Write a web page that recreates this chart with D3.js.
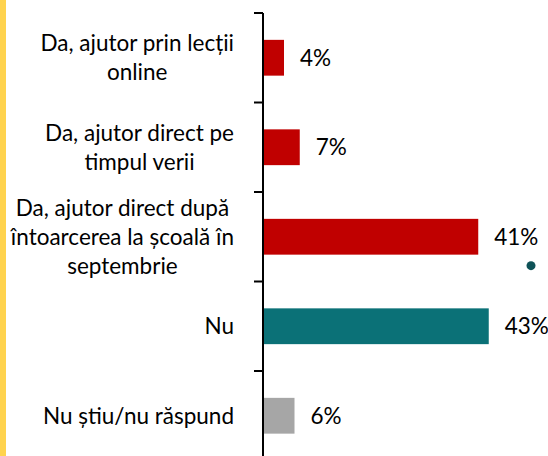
<!DOCTYPE html>
<html><head><meta charset="utf-8">
<script src="https://cdn.jsdelivr.net/npm/d3@7"></script>
<style>html,body{margin:0;padding:0;background:#fff;overflow:hidden}</style>
</head><body>
<svg id="c" width="548" height="456"></svg>
<script>
const categories = [
  ["Da, ajutor prin lecții", "online"],
  ["Da, ajutor direct pe", "timpul verii"],
  ["Da, ajutor direct după", "întoarcerea la școală în", "septembrie"],
  ["Nu"],
  ["Nu știu/nu răspund"]
];
const values = [4, 7, 41, 43, 6];
const barColors = ["#C00000", "#C00000", "#C00000", "#0B7177", "#A6A6A6"];
const valueLabels = ["4%", "7%", "41%", "43%", "6%"];

const W = 548, H = 456;
const svg = d3.select("#c");
const font = "Lato, 'Liberation Sans', sans-serif";
const fs = 22.5;
const fw = 400;

// yellow side stripe
svg.append("rect").attr("x", 0).attr("y", 0).attr("width", 6).attr("height", H).attr("fill", "#FFD34E");

const ids = categories.map((c, i) => i);
const y = d3.scaleBand().domain(ids).range([13, 460.5]).paddingInner(0.6).paddingOuter(0.3);
const x = d3.scaleLinear().domain([0, 50]).range([263, 263 + 50 * 5.25]);
const step = y.step();

// bars
svg.selectAll("rect.bar").data(values).join("rect").attr("class", "bar")
  .attr("x", x(0)).attr("y", (d, i) => y(i))
  .attr("width", d => x(d) - x(0)).attr("height", y.bandwidth())
  .attr("fill", (d, i) => barColors[i]);

// axis line and ticks at category boundaries
const axisG = svg.append("g");
axisG.append("line").attr("x1", x(0)).attr("x2", x(0)).attr("y1", 13).attr("y2", H)
  .attr("stroke", "#000").attr("stroke-width", 2);
const bounds = d3.range(categories.length + 1).map(i => y.range()[0] + i * step);
axisG.selectAll("line.tick").data(bounds).join("line").attr("class", "tick")
  .attr("x1", x(0) - 9).attr("x2", x(0)).attr("y1", d => d).attr("y2", d => d)
  .attr("stroke", "#000").attr("stroke-width", 2);

// value labels
svg.selectAll("text.val").data(values).join("text").attr("class", "val")
  .attr("x", d => x(d) + 16).attr("y", (d, i) => y(i) + y.bandwidth() / 2)
  .attr("dy", "0.35em").attr("font-family", font).attr("font-size", fs).attr("font-weight", fw).attr("fill", "#000")
  .text((d, i) => valueLabels[i]);

// category labels: block right-aligned, lines centered within block
const rightEdge = 234, lh = 29;
categories.forEach((lines, i) => {
  const g = svg.append("g");
  const cy = y(i) + y.bandwidth() / 2;
  const ts = lines.map((t, j) => g.append("text")
    .attr("font-family", font).attr("font-size", fs).attr("font-weight", fw).attr("fill", "#000")
    .attr("text-anchor", "middle")
    .attr("y", cy + (j - (lines.length - 1) / 2) * lh).attr("dy", "0.35em").text(t));
  const wmax = d3.max(ts, t => t.node().getComputedTextLength());
  ts.forEach(t => t.attr("x", rightEdge - wmax / 2));
});

// small marker dot
svg.append("circle").attr("cx", W - 17).attr("cy", y(2) + y.bandwidth() + 11)
  .attr("r", 4.5).attr("fill", "#0E5257");
</script>
</body></html>
